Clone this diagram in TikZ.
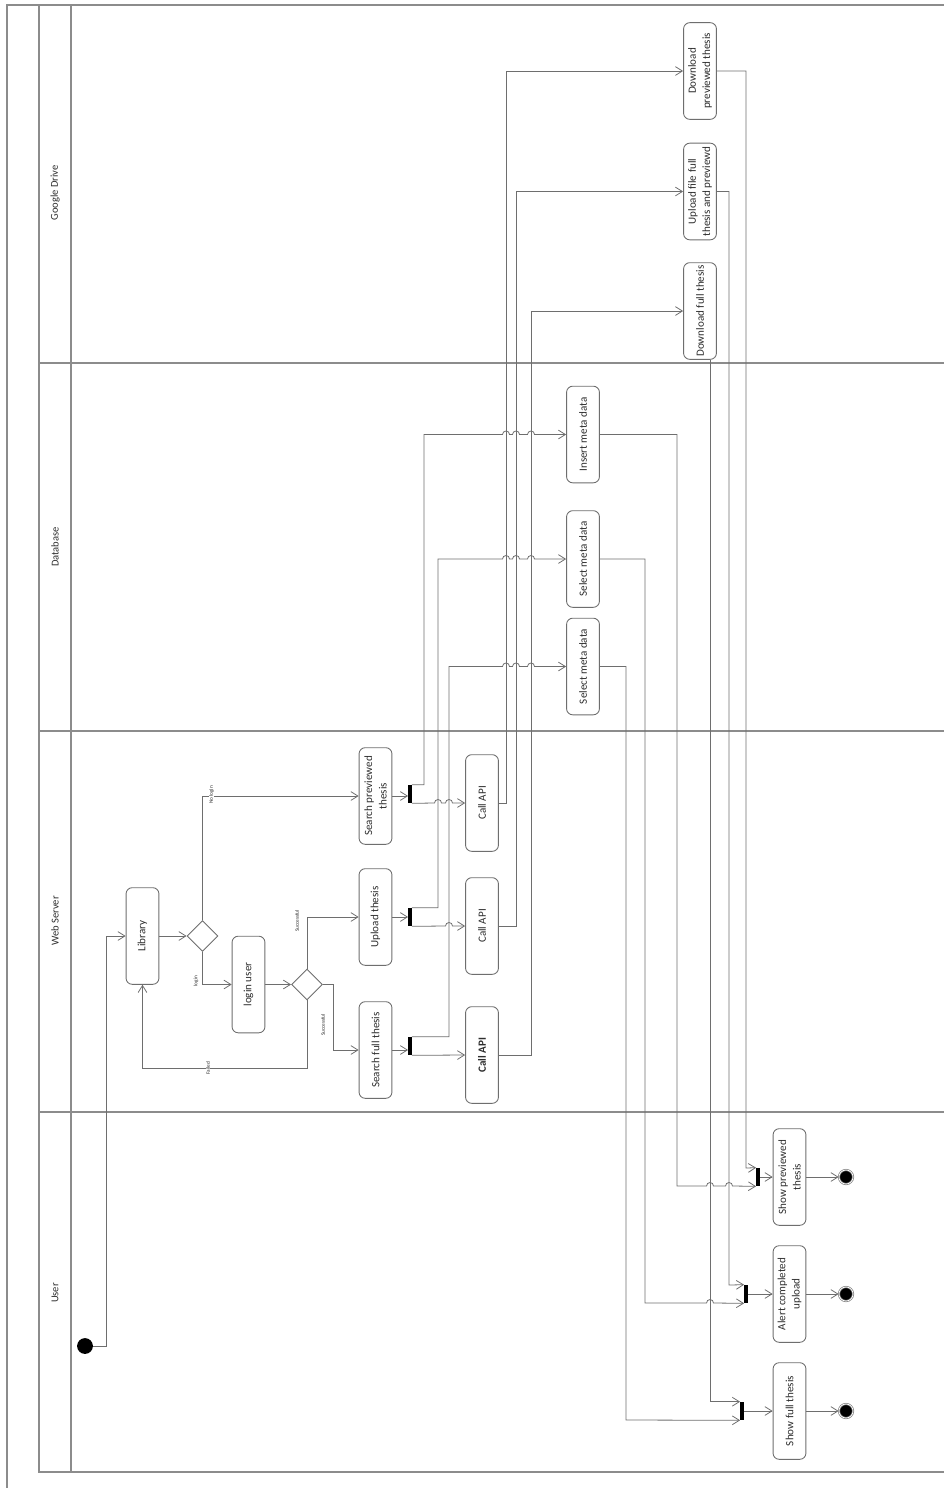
\documentclass[tikz,border=0pt]{standalone}
\usepackage{fontspec}
\setmainfont{Carlito}
\usepackage{tikz}
\usetikzlibrary{shapes.geometric,arrows.meta,positioning}

\definecolor{lanegray}{HTML}{8C8C8C}
\definecolor{linegray}{HTML}{6E6E6E}
\definecolor{textgray}{HTML}{2E2E2E}

\tikzset{
	act/.style={draw=linegray, fill=white, line width=0.5pt, rounded corners=3.5pt, rotate=90,
		minimum width=55pt, minimum height=18.7pt, inner sep=1pt, align=center,
		text=textgray, font=\fontsize{6.3}{8.2}\selectfont},
	choice/.style={diamond, draw=linegray, fill=white, line width=0.5pt,
		minimum width=17.6pt, minimum height=17.6pt, inner sep=0pt},
	bar/.style={fill=black, minimum width=1.8pt, minimum height=10.2pt, inner sep=0pt},
	startnode/.style={circle, fill=black, minimum size=9pt, inner sep=0pt},
	endnode/.style={circle, fill=black, draw=gray, double=white, double distance=0.4pt,
		minimum size=8pt, inner sep=0pt},
	flow/.style={draw=linegray, line width=0.45pt, -{Straight Barb[length=4pt,width=5pt]}},
	guard/.style={rotate=90, fill=white, inner sep=0.3pt, text=textgray,
		font=\fontsize{3}{3}\selectfont},
	lane/.style={draw=lanegray, line width=0.7pt},
	lanename/.style={rotate=90, text=textgray, font=\fontsize{6}{7}\selectfont},
}
% small jump where a line crosses another one
\newcommand{\hop}[2]{-- (#1-3.5,#2) arc[start angle=180,end angle=0,radius=2pt]}

\begin{document}
\begin{tikzpicture}[x=0.02cm, y=-0.02cm]
	\useasboundingbox (0,0) rectangle (945,1488);
	% pool and lanes
	\draw[lane] (7,1488) -- (7,5) -- (944,5);
	\draw[lane] (39,5) -- (39,1472) -- (944,1472);
	\draw[lane] (71,5) -- (71,1472);
	\foreach \y in {363,731,1112} {
		\draw[lane] (39,\y) -- (944,\y);
	}
	% lane names
	\foreach \y/\name in {193/Google Drive,547/Database,921/Web Server,1293/User} {
		\node[lanename] (lane\y) at (55,\y) {\name};
	}
	% web server
	\node[startnode] (start) at (85,1346) {};
	\node[act] (lib) at (142.5,936) {Library};
	\node[choice] (d1) at (202.5,936) {};
	\node[act] (login) at (248.5,984.5) {login user};
	\node[choice] (d2) at (307,984.5) {};
	\node[act] (sprev) at (375.5,796) {Search previewed\\thesis};
	\node[act] (upl) at (375.5,917) {Upload thesis};
	\node[act] (sfull) at (375.5,1050) {Search full thesis};
	\node[bar] (fk1) at (410,794) {};
	\node[bar] (fk2) at (410,917) {};
	\node[bar] (fk3) at (410,1046) {};
	\node[act] (call1) at (482,803) {Call API};
	\node[act] (call2) at (482,926) {Call API};
	\node[act] (call3) at (482,1055) {\textbf{Call API}};
	% database
	\node[act] (ins) at (583,434.5) {Insert meta data};
	\node[act] (sel1) at (583,559) {Select meta data};
	\node[act] (sel2) at (583,666.5) {Select meta data};
	% google drive
	\node[act] (dlprev) at (700,71) {Download\\previewed thesis};
	\node[act] (gup) at (700,191.5) {Upload file full\\thesis and previewd};
	\node[act] (dlfull) at (700,311) {Download full thesis};
	% user
	\node[bar] (jn1) at (758,1177) {};
	\node[bar] (jn2) at (746,1294) {};
	\node[bar] (jn3) at (742,1411) {};
	\node[act] (showp) at (789.5,1177) {Show previewed\\thesis};
	\node[act] (alert) at (789.5,1294) {Alert completed\\upload};
	\node[act] (showf) at (789.5,1411) {Show full thesis};
	\node[endnode] (fin1) at (846,1177) {};
	\node[endnode] (fin2) at (846,1294) {};
	\node[endnode] (fin3) at (846,1411) {};

	% login part
	\draw[flow] (start.east) -| (106,936) -- (lib.north);
	\draw[flow] (lib.south) -- (d1.west);
	\draw[flow] (d1.north) |- (sprev.north);
	\draw[flow] (d1.south) |- (login.north);
	\draw[flow] (login.south) -- (d2.west);
	\draw[flow] (d2.north) |- (upl.north);
	\draw[flow] (d2.east) -- ++(10.5,0) |- (sfull.north);
	\draw[flow] (d2.south) -- (307,1068) -| (lib.west);
	% forks
	\draw[flow] (sprev.south) -- (sprev.south -| fk1.west);
	\draw[flow] (upl.south) -- (fk2.west);
	\draw[flow] (sfull.south) -- (sfull.south -| fk3.west);
	\draw[flow] (fk1.north east) -| (424,434.5) \hop{506}{434.5} \hop{516}{434.5} \hop{531}{434.5} -- (ins.north);
	\draw[flow] (fk2.north east) -| (438,559) \hop{506}{559} \hop{516}{559} \hop{531}{559} -- (sel1.north);
	\draw[flow] (fk3.north east) -| (449,666.5) \hop{506}{666.5} \hop{516}{666.5} \hop{531}{666.5} -- (sel2.north);
	\draw[flow] (fk1.south east) \hop{438}{803} \hop{449}{803} -- (call1.north);
	\draw[flow] (fk2.south east) \hop{449}{926} -- (call2.north);
	\draw[flow] (fk3.south east) -- (call3.north);
	% api calls to google drive
	\draw[flow] (call1.south) -| (506,71) -- (dlprev.north);
	\draw[flow] (call2.south) -| (516,191.5) -- (gup.north);
	\draw[flow] (call3.south) -| (531,311) -- (dlfull.north);
	% back to the user
	\draw[flow] (ins.south) -| (677,1186) \hop{710}{1186} \hop{729}{1186} -- (jn1.south west);
	\draw[flow] (sel1.south) -| (645,1303) \hop{710}{1303} -- (jn2.south west);
	\draw[flow] (sel2.south) -| (626,1420) -- (jn3.south west);
	\draw[flow] (dlprev.south) -| (746,1168) -- (jn1.north west);
	\draw[flow] (gup.south) -| (729,1285) -- (jn2.north west);
	\draw[flow] ([xshift=0.2cm]dlfull.west) |- (jn3.north west);
	% joins and ends
	\draw[flow] (jn1.east) -- (showp.north);
	\draw[flow] (jn2.east) -- (alert.north);
	\draw[flow] (jn3.east) -- (showf.north);
	\draw[flow] (showp.south) -- (fin1.west);
	\draw[flow] (alert.south) -- (fin2.west);
	\draw[flow] (showf.south) -- (fin3.west);

	% guards
	\node[guard] (gnologin) at (211.5,795) {No login};
	\node[guard] (glogin) at (196,981) {login};
	\node[guard] (gsucc1) at (297,921) {Successful};
	\node[guard] (gsucc2) at (323,1025) {Successful};
	\node[guard] (gfailed) at (208,1068) {Failed};
\end{tikzpicture}
\end{document}
